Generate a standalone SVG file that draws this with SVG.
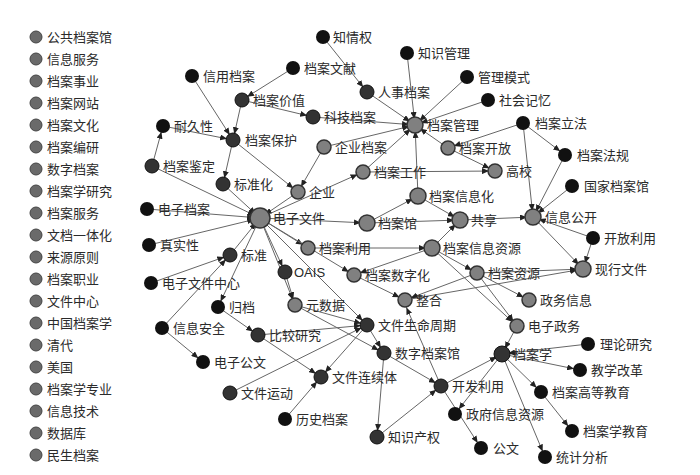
<svg xmlns="http://www.w3.org/2000/svg" width="700" height="475" viewBox="0 0 700 475">
<style>
text{font-family:"Liberation Sans","Noto Sans CJK SC",sans-serif;font-size:13px;fill:#2a2a2a}
.b{fill:#111}.d{fill:#333;stroke:#111;stroke-width:1}.g{fill:#808080;stroke:#333;stroke-width:1.5}.l{fill:#6a6a6a;stroke:#444;stroke-width:1}
#edges line{stroke:#666;stroke-width:1;marker-end:url(#a)}
</style>
<defs><marker id="a" markerUnits="userSpaceOnUse" markerWidth="7" markerHeight="6" refX="13" refY="3" orient="auto"><path d="M0,0L7,3L0,6z" fill="#222"/></marker></defs>
<rect width="700" height="475" fill="#fff"/>
<g id="edges">
<line x1="323" y1="37" x2="367" y2="92"/><line x1="293" y1="68" x2="242" y2="100"/><line x1="367" y1="92" x2="415" y2="125"/>
<line x1="407" y1="53" x2="415" y2="125"/><line x1="467" y1="77" x2="415" y2="125"/><line x1="488" y1="100" x2="415" y2="125"/>
<line x1="523" y1="123" x2="448" y2="148"/><line x1="523" y1="123" x2="565" y2="155"/><line x1="523" y1="123" x2="533" y2="217"/>
<line x1="565" y1="155" x2="533" y2="217"/><line x1="572" y1="186" x2="533" y2="217"/><line x1="593" y1="238" x2="533" y2="217"/>
<line x1="593" y1="238" x2="583" y2="269"/><line x1="533" y1="217" x2="583" y2="269"/><line x1="448" y1="148" x2="415" y2="125"/>
<line x1="448" y1="148" x2="495" y2="171"/><line x1="363" y1="172" x2="495" y2="171"/><line x1="363" y1="172" x2="415" y2="125"/>
<line x1="324" y1="147" x2="415" y2="125"/><line x1="313" y1="117" x2="415" y2="125"/><line x1="242" y1="100" x2="313" y2="117"/>
<line x1="192" y1="76" x2="233" y2="140"/><line x1="242" y1="100" x2="233" y2="140"/><line x1="163" y1="126" x2="233" y2="140"/>
<line x1="152" y1="166" x2="163" y2="126"/><line x1="233" y1="140" x2="223" y2="184"/><line x1="233" y1="140" x2="298" y2="192"/>
<line x1="324" y1="147" x2="298" y2="192"/><line x1="298" y1="192" x2="260" y2="218"/><line x1="223" y1="184" x2="260" y2="218"/>
<line x1="152" y1="166" x2="260" y2="218"/><line x1="147" y1="209" x2="260" y2="218"/><line x1="149" y1="245" x2="260" y2="218"/>
<line x1="230" y1="255" x2="260" y2="218"/><line x1="151" y1="283" x2="230" y2="255"/><line x1="162" y1="328" x2="230" y2="255"/>
<line x1="260" y1="218" x2="285" y2="272"/><line x1="260" y1="218" x2="295" y2="305"/><line x1="260" y1="218" x2="308" y2="248"/>
<line x1="260" y1="218" x2="367" y2="223"/><line x1="260" y1="218" x2="363" y2="172"/><line x1="260" y1="218" x2="354" y2="275"/>
<line x1="260" y1="218" x2="367" y2="325"/><line x1="260" y1="218" x2="218" y2="307"/><line x1="367" y1="223" x2="418" y2="196"/>
<line x1="367" y1="223" x2="460" y2="220"/><line x1="418" y1="196" x2="415" y2="125"/><line x1="418" y1="196" x2="460" y2="220"/>
<line x1="460" y1="220" x2="533" y2="217"/><line x1="432" y1="248" x2="460" y2="220"/><line x1="432" y1="248" x2="477" y2="273"/>
<line x1="432" y1="248" x2="354" y2="275"/><line x1="354" y1="275" x2="405" y2="300"/><line x1="477" y1="273" x2="405" y2="300"/>
<line x1="405" y1="300" x2="583" y2="269"/><line x1="477" y1="273" x2="583" y2="269"/><line x1="477" y1="273" x2="529" y2="300"/>
<line x1="477" y1="273" x2="517" y2="326"/><line x1="432" y1="248" x2="517" y2="326"/><line x1="517" y1="326" x2="502" y2="354"/>
<line x1="588" y1="344" x2="502" y2="354"/><line x1="502" y1="354" x2="580" y2="370"/><line x1="502" y1="354" x2="541" y2="392"/>
<line x1="541" y1="392" x2="572" y2="431"/><line x1="441" y1="386" x2="502" y2="354"/><line x1="502" y1="354" x2="455" y2="414"/>
<line x1="502" y1="354" x2="545" y2="457"/><line x1="441" y1="386" x2="481" y2="448"/><line x1="377" y1="437" x2="441" y2="386"/>
<line x1="384" y1="353" x2="441" y2="386"/><line x1="367" y1="325" x2="384" y2="353"/><line x1="367" y1="325" x2="321" y2="377"/>
<line x1="258" y1="335" x2="321" y2="377"/><line x1="258" y1="335" x2="367" y2="325"/><line x1="230" y1="393" x2="367" y2="325"/>
<line x1="285" y1="419" x2="321" y2="377"/><line x1="162" y1="328" x2="203" y2="362"/><line x1="218" y1="307" x2="258" y2="335"/>
<line x1="295" y1="305" x2="367" y2="325"/><line x1="285" y1="272" x2="295" y2="305"/><line x1="308" y1="248" x2="432" y2="248"/>
<line x1="384" y1="353" x2="377" y2="437"/><line x1="295" y1="305" x2="384" y2="353"/><line x1="441" y1="386" x2="404" y2="302"/>
</g>
<g id="legend">
<g id="l1"><circle class="l" cx="36" cy="37" r="6"/><text x="47" y="42">公共档案馆</text></g>
<g id="l2"><circle class="l" cx="36" cy="59" r="6"/><text x="47" y="64">信息服务</text></g>
<g id="l3"><circle class="l" cx="36" cy="81" r="6"/><text x="47" y="86">档案事业</text></g>
<g id="l4"><circle class="l" cx="36" cy="103" r="6"/><text x="47" y="108">档案网站</text></g>
<g id="l5"><circle class="l" cx="36" cy="125" r="6"/><text x="47" y="130">档案文化</text></g>
<g id="l6"><circle class="l" cx="36" cy="147" r="6"/><text x="47" y="152">档案编研</text></g>
<g id="l7"><circle class="l" cx="36" cy="169" r="6"/><text x="47" y="174">数字档案</text></g>
<g id="l8"><circle class="l" cx="36" cy="191" r="6"/><text x="47" y="196">档案学研究</text></g>
<g id="l9"><circle class="l" cx="36" cy="213" r="6"/><text x="47" y="218">档案服务</text></g>
<g id="l10"><circle class="l" cx="36" cy="235" r="6"/><text x="47" y="240">文档一体化</text></g>
<g id="l11"><circle class="l" cx="36" cy="257" r="6"/><text x="47" y="262">来源原则</text></g>
<g id="l12"><circle class="l" cx="36" cy="279" r="6"/><text x="47" y="284">档案职业</text></g>
<g id="l13"><circle class="l" cx="36" cy="301" r="6"/><text x="47" y="306">文件中心</text></g>
<g id="l14"><circle class="l" cx="36" cy="323" r="6"/><text x="47" y="328">中国档案学</text></g>
<g id="l15"><circle class="l" cx="36" cy="345" r="6"/><text x="47" y="350">清代</text></g>
<g id="l16"><circle class="l" cx="36" cy="367" r="6"/><text x="47" y="372">美国</text></g>
<g id="l17"><circle class="l" cx="36" cy="389" r="6"/><text x="47" y="394">档案学专业</text></g>
<g id="l18"><circle class="l" cx="36" cy="411" r="6"/><text x="47" y="416">信息技术</text></g>
<g id="l19"><circle class="l" cx="36" cy="433" r="6"/><text x="47" y="438">数据库</text></g>
<g id="l20"><circle class="l" cx="36" cy="455" r="6"/><text x="47" y="460">民生档案</text></g>
</g>
<g id="n1"><circle class="b" cx="323" cy="37" r="7"/><text x="333" y="42">知情权</text></g>
<g id="n2"><circle class="b" cx="407" cy="53" r="7"/><text x="418" y="58">知识管理</text></g>
<g id="n3"><circle class="b" cx="467" cy="77" r="7"/><text x="478" y="82">管理模式</text></g>
<g id="n4"><circle class="b" cx="488" cy="100" r="7"/><text x="499" y="105">社会记忆</text></g>
<g id="n5"><circle class="b" cx="523" cy="123" r="7"/><text x="535" y="128">档案立法</text></g>
<g id="n6"><circle class="b" cx="565" cy="155" r="7"/><text x="577" y="160">档案法规</text></g>
<g id="n7"><circle class="b" cx="572" cy="186" r="7"/><text x="584" y="191">国家档案馆</text></g>
<g id="n8"><circle class="b" cx="593" cy="238" r="7"/><text x="604" y="243">开放利用</text></g>
<g id="n9"><circle class="b" cx="588" cy="344" r="7"/><text x="600" y="349">理论研究</text></g>
<g id="n10"><circle class="b" cx="580" cy="370" r="7"/><text x="591" y="375">教学改革</text></g>
<g id="n11"><circle class="b" cx="541" cy="392" r="7"/><text x="552" y="397">档案高等教育</text></g>
<g id="n12"><circle class="b" cx="572" cy="431" r="7"/><text x="583" y="436">档案学教育</text></g>
<g id="n13"><circle class="b" cx="545" cy="457" r="7"/><text x="556" y="462">统计分析</text></g>
<g id="n14"><circle class="b" cx="481" cy="448" r="7"/><text x="493" y="453">公文</text></g>
<g id="n15"><circle class="b" cx="455" cy="414" r="7"/><text x="466" y="419">政府信息资源</text></g>
<g id="n16"><circle class="d" cx="377" cy="437" r="7"/><text x="388" y="442">知识产权</text></g>
<g id="n17"><circle class="b" cx="285" cy="419" r="7"/><text x="296" y="424">历史档案</text></g>
<g id="n18"><circle class="d" cx="230" cy="393" r="7"/><text x="241" y="398">文件运动</text></g>
<g id="n19"><circle class="b" cx="203" cy="362" r="7"/><text x="214" y="367">电子公文</text></g>
<g id="n20"><circle class="b" cx="162" cy="328" r="7"/><text x="173" y="333">信息安全</text></g>
<g id="n21"><circle class="b" cx="218" cy="307" r="7"/><text x="229" y="312">归档</text></g>
<g id="n22"><circle class="d" cx="258" cy="335" r="7"/><text x="269" y="340">比较研究</text></g>
<g id="n23"><circle class="b" cx="151" cy="283" r="7"/><text x="162" y="288">电子文件中心</text></g>
<g id="n24"><circle class="b" cx="149" cy="245" r="7"/><text x="160" y="250">真实性</text></g>
<g id="n25"><circle class="b" cx="147" cy="209" r="7"/><text x="158" y="214">电子档案</text></g>
<g id="n26"><circle class="d" cx="152" cy="166" r="7"/><text x="163" y="171">档案鉴定</text></g>
<g id="n27"><circle class="d" cx="223" cy="184" r="7"/><text x="234" y="189">标准化</text></g>
<g id="n28"><circle class="b" cx="163" cy="126" r="7"/><text x="174" y="131">耐久性</text></g>
<g id="n29"><circle class="b" cx="192" cy="76" r="7"/><text x="203" y="81">信用档案</text></g>
<g id="n30"><circle class="b" cx="293" cy="68" r="7"/><text x="304" y="73">档案文献</text></g>
<g id="n31"><circle class="d" cx="242" cy="100" r="7"/><text x="253" y="105">档案价值</text></g>
<g id="n32"><circle class="d" cx="313" cy="117" r="7"/><text x="324" y="122">科技档案</text></g>
<g id="n33"><circle class="d" cx="367" cy="92" r="7"/><text x="378" y="97">人事档案</text></g>
<g id="n34"><circle class="d" cx="233" cy="140" r="7"/><text x="245" y="145">档案保护</text></g>
<g id="n35"><circle class="d" cx="285" cy="272" r="7"/><text x="294" y="277">OAIS</text></g>
<g id="n36"><circle class="d" cx="230" cy="255" r="7"/><text x="241" y="260">标准</text></g>
<g id="n37"><circle class="g" cx="295" cy="305" r="7"/><text x="306" y="310">元数据</text></g>
<g id="n38"><circle class="d" cx="502" cy="354" r="8"/><text x="513" y="359">档案学</text></g>
<g id="n39"><circle class="d" cx="441" cy="386" r="7"/><text x="452" y="391">开发利用</text></g>
<g id="n40"><circle class="d" cx="321" cy="377" r="7"/><text x="332" y="382">文件连续体</text></g>
<g id="n41"><circle class="d" cx="367" cy="325" r="7"/><text x="378" y="330">文件生命周期</text></g>
<g id="n42"><circle class="d" cx="384" cy="353" r="7"/><text x="395" y="358">数字档案馆</text></g>
<g id="n43"><circle class="g" cx="448" cy="148" r="7"/><text x="459" y="153">档案开放</text></g>
<g id="n44"><circle class="g" cx="495" cy="171" r="7"/><text x="506" y="176">高校</text></g>
<g id="n45"><circle class="g" cx="533" cy="217" r="8"/><text x="545" y="222">信息公开</text></g>
<g id="n46"><circle class="g" cx="583" cy="269" r="8"/><text x="595" y="274">现行文件</text></g>
<g id="n47"><circle class="g" cx="529" cy="300" r="7"/><text x="540" y="305">政务信息</text></g>
<g id="n48"><circle class="g" cx="517" cy="326" r="7"/><text x="528" y="331">电子政务</text></g>
<g id="n49"><circle class="g" cx="477" cy="273" r="7"/><text x="488" y="278">档案资源</text></g>
<g id="n50"><circle class="g" cx="432" cy="248" r="8"/><text x="443" y="253">档案信息资源</text></g>
<g id="n51"><circle class="g" cx="354" cy="275" r="7"/><text x="365" y="280">档案数字化</text></g>
<g id="n52"><circle class="g" cx="405" cy="300" r="7"/><text x="416" y="305">整合</text></g>
<g id="n53"><circle class="g" cx="308" cy="248" r="7"/><text x="319" y="253">档案利用</text></g>
<g id="n54"><circle class="g" cx="367" cy="223" r="8"/><text x="378" y="228">档案馆</text></g>
<g id="n55"><circle class="g" cx="460" cy="220" r="8"/><text x="471" y="225">共享</text></g>
<g id="n56"><circle class="g" cx="418" cy="196" r="8"/><text x="429" y="201">档案信息化</text></g>
<g id="n57"><circle class="g" cx="363" cy="172" r="7"/><text x="374" y="177">档案工作</text></g>
<g id="n58"><circle class="g" cx="324" cy="147" r="7"/><text x="335" y="152">企业档案</text></g>
<g id="n59"><circle class="g" cx="298" cy="192" r="7"/><text x="309" y="197">企业</text></g>
<g id="n60"><circle class="g" cx="260" cy="218" r="10"/><text x="273" y="223">电子文件</text></g>
<g id="n61"><circle class="g" cx="415" cy="125" r="8"/><text x="427" y="130">档案管理</text></g>
</svg>
